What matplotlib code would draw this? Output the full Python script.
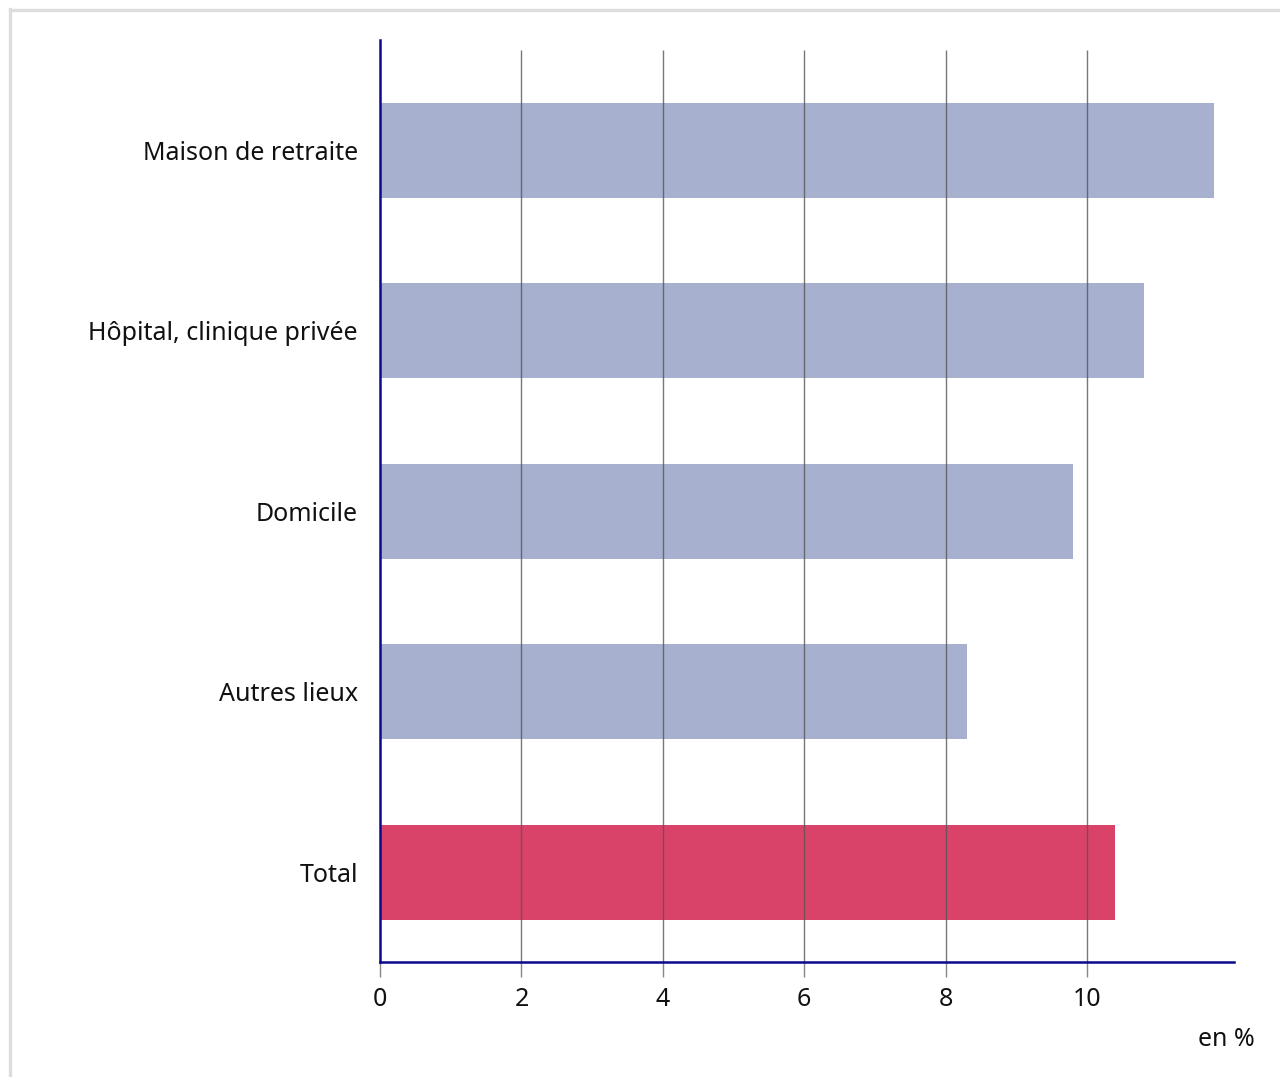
import matplotlib
matplotlib.use("Agg")
import matplotlib.pyplot as plt
from matplotlib.lines import Line2D

categories = ["Maison de retraite", "Hôpital, clinique privée", "Domicile", "Autres lieux", "Total"]
values = [11.8, 10.8, 9.8, 8.3, 10.4]
colors = ["#a7b0cf", "#a7b0cf", "#a7b0cf", "#a7b0cf", "#d9436a"]
xticks = [0, 2, 4, 6, 8, 10]
unit_label = "en %"

plt.rcParams['font.family'] = ['Noto Sans', 'DejaVu Sans']

W, H = 1280, 1077
fig = plt.figure(figsize=(W / 100, H / 100), dpi=100)
# light gray frame (top and left edges visible)
fig.lines.append(Line2D([9.5 / W, 1.0], [1 - 9.5 / H, 1 - 9.5 / H], transform=fig.transFigure,
                        color="#dddddd", linewidth=2.4))
fig.lines.append(Line2D([9.5 / W, 9.5 / W], [0, 1 - 8.5 / H], transform=fig.transFigure,
                        color="#dddddd", linewidth=2.4))

left, right, top, bottom = 380, 1234, 40, 962
ax = fig.add_axes([left / W, 1 - bottom / H, (right - left) / W, (bottom - top) / H])

ypos = list(range(len(categories)))
ax.barh(ypos, values, height=0.526, color=colors, zorder=1)
ax.set_xlim(0, 12.08)
ax.set_ylim(4.496, -0.612)

ax.vlines(xticks[1:], -0.557, 4.496, color="#555555", linewidth=1, alpha=0.8, zorder=2)

ax.set_xticks(xticks)
ax.set_xticklabels([str(t) for t in xticks], fontsize=18, color="#111111")
ax.tick_params(axis="x", length=11, width=1, color="#888888", pad=7)
ax.set_yticks(ypos)
ax.set_yticklabels(categories, fontsize=18, color="#111111")
ax.tick_params(axis="y", length=0, pad=16)

for s in ["top", "right"]:
    ax.spines[s].set_visible(False)
for s in ["left", "bottom"]:
    ax.spines[s].set_color("#0a0a8a")
    ax.spines[s].set_linewidth(1.8)
    ax.spines[s].set_zorder(3)

fig.text(1255 / W, 1 - 1039 / H, unit_label, ha="right", va="center", fontsize=18, color="#111111")

fig.savefig("out.png", dpi=100)
